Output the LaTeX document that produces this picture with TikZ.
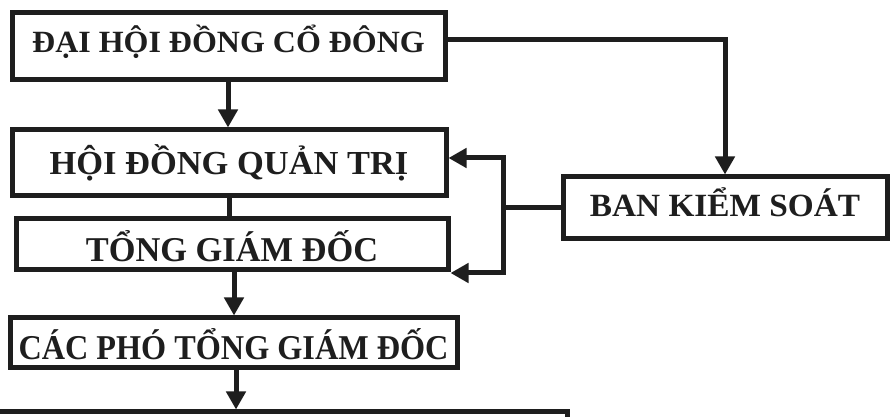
\documentclass[tikz,border=0pt]{standalone}
\usepackage{fontspec}
\setmainfont{Liberation Serif}
\usetikzlibrary{arrows.meta}
\definecolor{ink}{HTML}{1E1E1E}
\tikzset{
  box/.style={draw=ink, line width=5pt, fill=white, inner sep=0pt, text=ink,
    text depth=0pt, font=\fontsize{30}{30}\selectfont\bfseries},
  link/.style={draw=ink, line width=5pt},
  arr/.style={link, -{Triangle[length=18pt,width=19pt]}},
}
\begin{document}
\begin{tikzpicture}[x=1pt,y=1pt]
\useasboundingbox[fill=white] (0,0) rectangle (891,417);
\node[box, minimum width=433pt, minimum height=67pt, text height=13pt] (dh) at (228.5,370.5) {\scalebox{1.066}[1.03]{ĐẠI HỘI ĐỒNG CỔ ĐÔNG}};
\node[box, minimum width=434pt, minimum height=66pt, text height=24pt] (hd) at (229,254) {\scalebox{1.148}[1.12]{HỘI ĐỒNG QUẢN TRỊ}};
\node[box, minimum width=432pt, minimum height=51pt, text height=35pt] (tg) at (232,172.5) {\scalebox{1.146}[1.16]{TỔNG GIÁM ĐỐC}};
\node[box, minimum width=447pt, minimum height=50pt, text height=34pt] (pt) at (233.5,74) {\scalebox{1.075}[1.16]{CÁC PHÓ TỔNG GIÁM ĐỐC}};
\node[box, minimum width=324pt, minimum height=62pt, text height=18pt] (bk) at (725,209) {\scalebox{1.11}[1.08]{BAN KIỂM SOÁT}};
\node[box, minimum width=577pt, minimum height=60pt] (nx) at (278.5,-25) {};
\coordinate (j) at (bk.west -| 503,0);
% connectors
\draw[arr] (dh.south -| 228,0) -- (hd.north -| 228,0);
\draw[arr] ([yshift=6.5pt]dh.east) -| (bk.north);
\draw[link] (hd.south -| 229,0) -- (tg.north -| 229,0);
\draw[arr] (tg.south -| 234,0) -- (pt.north -| 234,0);
\draw[arr] (pt.south -| 236,0) -- (nx.north -| 236,0);
\draw[link] (bk.west) -- (j);
\draw[arr] (j) |- (hd.east |- 0,259);
\draw[arr] (j) |- (tg.east |- 0,144);
\end{tikzpicture}
\end{document}
